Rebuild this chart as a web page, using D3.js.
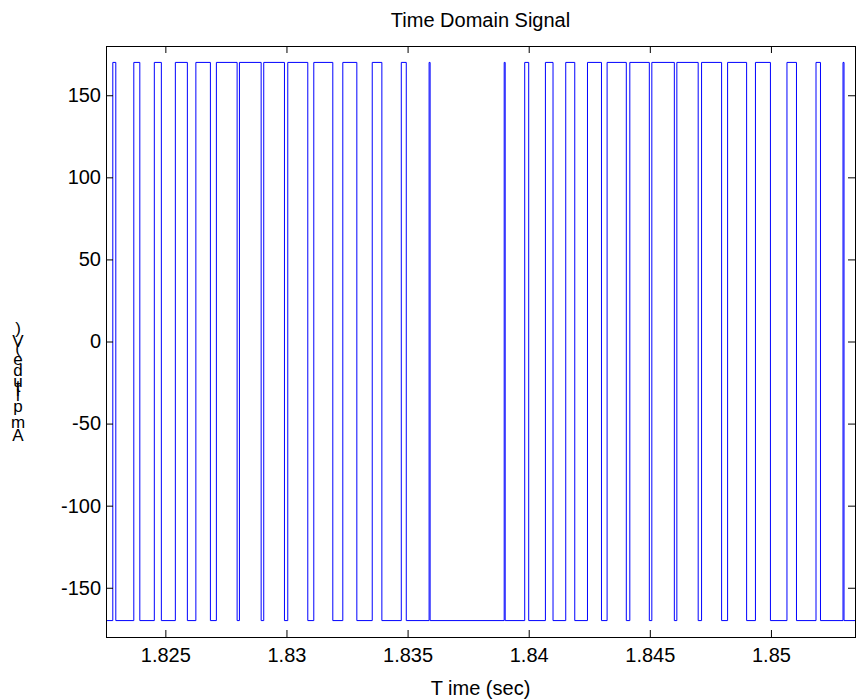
<!DOCTYPE html>
<html>
<head>
<meta charset="utf-8">
<script src="https://cdn.jsdelivr.net/npm/d3@7"></script>
<style>
  body { margin: 0; background: #fff; }
  svg { display: block; font-family: 'Liberation Sans', Arial, sans-serif; }
  .axis text { font-size: 20px; fill: #000; }
  .axis line { stroke: #000; }
  .axis path { display: none; }
</style>
</head>
<body>
<svg id="chart" width="856" height="700"></svg>
<script>
// DATA (seconds / volts)
const xTicks = [1.825, 1.83, 1.835, 1.84, 1.845, 1.85];
const yTicks = [-150, -100, -50, 0, 50, 100, 150];
const highLevel = 170;
const lowLevel = -170;
const tStart = 1.82255;
const tEnd = 1.85347;
const riseTimes = [
  1.822831, 1.823698, 1.824545, 1.825413, 1.826260, 1.827107, 1.828058,
  1.829062, 1.830054, 1.831128, 1.832326, 1.833541, 1.834740, 1.835888,
  1.838988, 1.839835, 1.840690, 1.841529, 1.842426, 1.843236, 1.844174,
  1.845083, 1.846116, 1.847136, 1.848211, 1.849360, 1.850661, 1.851860,
  1.852975
];
const fallTimes = [
  1.822955, 1.823946, 1.824835, 1.825909, 1.826860, 1.827963, 1.828955,
  1.829917, 1.830880, 1.831913, 1.832905, 1.833938, 1.834946, 1.835930,
  1.839029, 1.840000, 1.841004, 1.841901, 1.843004, 1.844029, 1.844979,
  1.846012, 1.846996, 1.847963, 1.848996, 1.849979, 1.851054, 1.852045,
  1.853017
];
const titleText = 'Time Domain Signal';
const xLabelText = 'T ime (sec)';
const yLabelText = 'Amplitude (V)';

// SETUP
const svg = d3.select('#chart');
const box = { left: 106, top: 46, right: 855, bottom: 637 };

const x = d3.scaleLinear().domain([tStart, tEnd]).range([box.left, box.right]);
const y = d3.scaleLinear().domain([-180, 180]).range([box.bottom, box.top]);

const fmt = d => String(+d.toFixed(3));

// STEP SIGNAL
let points = [[tStart, lowLevel]];
riseTimes.forEach((r, i) => {
  points.push([r, lowLevel], [r, highLevel], [fallTimes[i], highLevel], [fallTimes[i], lowLevel]);
});
points.push([tEnd, lowLevel]);

svg.append('defs').append('clipPath').attr('id', 'clip')
  .append('rect')
  .attr('x', box.left).attr('y', box.top)
  .attr('width', box.right - box.left).attr('height', box.bottom - box.top);

svg.append('path')
  .datum(points)
  .attr('clip-path', 'url(#clip)')
  .attr('fill', 'none')
  .attr('stroke', '#0000ff')
  .attr('stroke-width', 1)
  .attr('d', d3.line().x(d => x(d[0])).y(d => y(d[1])));

// AXES (inward ticks on all four sides)
const tl = 7;
svg.append('g').attr('class', 'axis')
  .attr('transform', 'translate(0,' + box.bottom + ')')
  .call(d3.axisBottom(x).tickValues(xTicks).tickFormat(fmt).tickSizeInner(-tl).tickSizeOuter(0).tickPadding(11));
svg.append('g').attr('class', 'axis')
  .attr('transform', 'translate(0,' + box.top + ')')
  .call(d3.axisTop(x).tickValues(xTicks).tickFormat('').tickSizeInner(-tl).tickSizeOuter(0));
svg.append('g').attr('class', 'axis')
  .attr('transform', 'translate(' + box.left + ',0)')
  .call(d3.axisLeft(y).tickValues(yTicks).tickFormat(d => d).tickSizeInner(-tl).tickSizeOuter(0).tickPadding(5));
svg.append('g').attr('class', 'axis')
  .attr('transform', 'translate(' + box.right + ',0)')
  .call(d3.axisRight(y).tickValues(yTicks).tickFormat('').tickSizeInner(-tl).tickSizeOuter(0));

svg.append('rect')
  .attr('x', box.left + 0.5).attr('y', box.top + 0.5)
  .attr('width', box.right - box.left).attr('height', box.bottom - box.top)
  .attr('fill', 'none').attr('stroke', '#000');

// TITLE + LABELS
const cx = (box.left + box.right) / 2;
svg.append('text').attr('x', cx).attr('y', 27)
  .attr('text-anchor', 'middle').attr('font-size', 20).text(titleText);
svg.append('text').attr('x', cx).attr('y', 695)
  .attr('text-anchor', 'middle').attr('font-size', 20).text(xLabelText);

// Y label: upright glyphs stacked bottom to top
const yl = svg.append('g').attr('font-size', 17).attr('text-anchor', 'middle');
let cy = 441;
yLabelText.split('').forEach(ch => {
  const t = yl.append('text').attr('x', 18).attr('y', cy).text(ch);
  cy -= t.node().getComputedTextLength() * 1.15;
});
</script>
</body>
</html>
